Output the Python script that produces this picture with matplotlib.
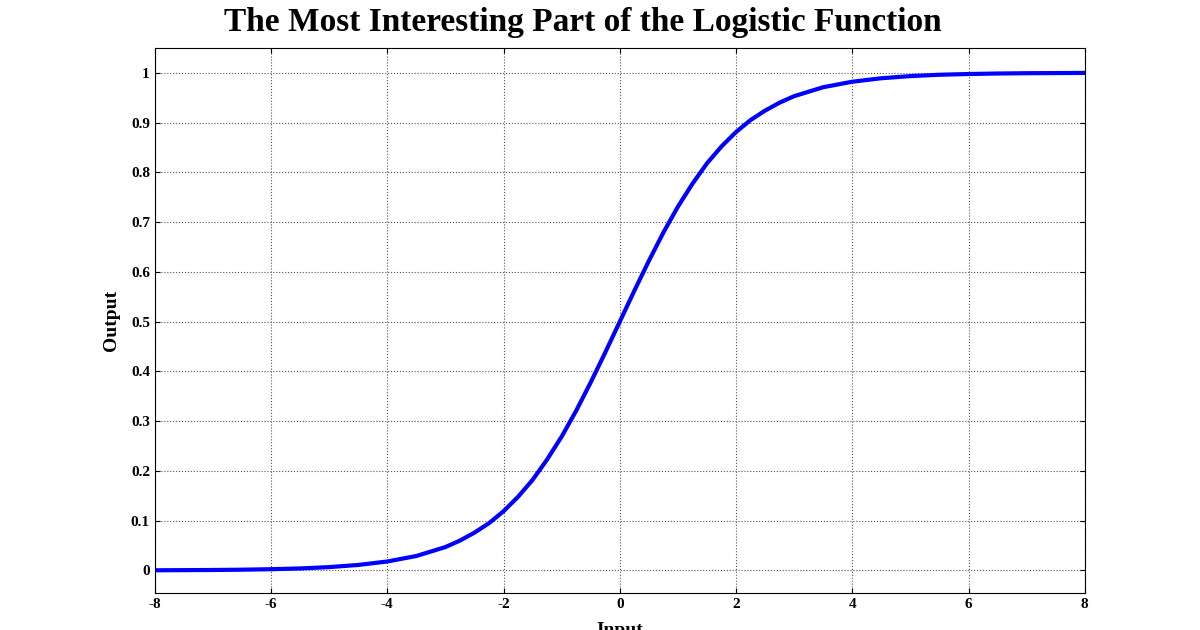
import matplotlib
matplotlib.use("Agg")
import matplotlib.pyplot as plt

# values
x_in = [-8, -7.5, -7, -6.5, -6, -5.5, -5, -4.5, -4, -3.5, -3, -2.75, -2.5, -2.25, -2,
        -1.75, -1.5, -1.25, -1, -0.75, -0.5, -0.25, 0, 0.25, 0.5, 0.75, 1, 1.25, 1.5,
        1.75, 2, 2.25, 2.5, 2.75, 3, 3.5, 4, 4.5, 5, 5.5, 6, 6.5, 7, 7.5, 8]
y_out = [0.0003, 0.0006, 0.0009, 0.0015, 0.0025, 0.004, 0.0067, 0.011, 0.018, 0.029,
         0.047, 0.060, 0.076, 0.095, 0.119, 0.148, 0.182, 0.223, 0.269, 0.321, 0.378,
         0.438, 0.5, 0.562, 0.622, 0.679, 0.731, 0.777, 0.818, 0.852, 0.881, 0.905,
         0.924, 0.940, 0.953, 0.971, 0.982, 0.989, 0.9933, 0.996, 0.9975, 0.9985,
         0.9991, 0.9994, 0.9997]
x_ticks = [-8, -6, -4, -2, 0, 2, 4, 6, 8]
y_ticks = [0, 0.1, 0.2, 0.3, 0.4, 0.5, 0.6, 0.7, 0.8, 0.9, 1]

plt.rcParams['font.family'] = ['Liberation Serif', 'DejaVu Serif']
plt.rcParams['font.weight'] = 'bold'

fig = plt.figure(figsize=(12, 6.3), dpi=100)
ax = fig.add_axes([0.129, 0.059, 0.775, 0.865])
ax.plot(x_in, y_out, color='blue', linewidth=3)
ax.set_xlim(-8, 8)
ax.set_ylim(-0.045, 1.05)
ax.set_xticks(x_ticks)
ax.set_xticklabels([str(t) for t in x_ticks])
ax.set_yticks(y_ticks)
ax.set_yticklabels(['0', '0.1', '0.2', '0.3', '0.4', '0.5', '0.6', '0.7', '0.8', '0.9', '1'])
ax.grid(True, linestyle=':', color='#555555', linewidth=0.8)
ax.tick_params(direction='in', labelsize=11, top=True, right=True)
for s in ax.spines.values():
    s.set_linewidth(0.8)
ax.set_xlabel('Input', fontsize=14, fontweight='bold', labelpad=8)
ax.set_ylabel('Output', fontsize=14, fontweight='bold', labelpad=8)
ax.set_title('The Most Interesting Part of the Logistic Function', fontsize=24,
             fontweight='bold', pad=12, x=0.46)
fig.savefig('out.png', dpi=100)
